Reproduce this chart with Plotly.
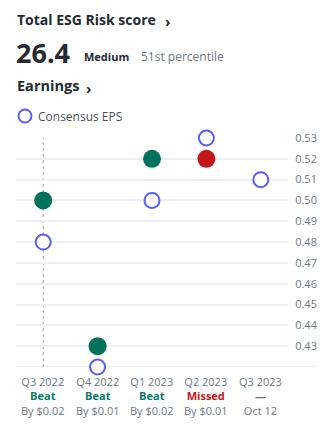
import plotly.graph_objects as go

quarters = ["Q3 2022", "Q4 2022", "Q1 2023", "Q2 2023", "Q3 2023"]
consensus_eps = [0.48, 0.42, 0.50, 0.53, 0.51]
actual_eps = [0.50, 0.43, 0.52, 0.52, None]
result_labels = ["Beat", "Beat", "Beat", "Missed", "—"]
result_details = ["By $0.02", "By $0.01", "By $0.02", "By $0.01", "Oct 12"]
y_ticks = [0.43, 0.44, 0.45, 0.46, 0.47, 0.48, 0.49, 0.50, 0.51, 0.52, 0.53]

GREEN = "#017259"
BEAT = "#0b7a68"
RED = "#c2161b"
BLUE = "#5c5cf6"
GREY = "#6e7780"
DARK = "#232a31"
FONT = "Open Sans"

W, H = 326, 431
L, R, T, B = 16, 288, 138, 367

def px(xp):
    return (xp - L) / (R - L)

def py(yp):
    return (B - yp) / (B - T)

x_idx = list(range(len(quarters)))
actual_colors = [RED if r == "Missed" else GREEN for r in result_labels]

fig = go.Figure()
fig.add_trace(go.Scatter(
    x=x_idx, y=consensus_eps, mode="markers", name="Consensus EPS",
    marker=dict(size=15, color="white", line=dict(color=BLUE, width=2)),
    cliponaxis=False, showlegend=False,
))
fig.add_trace(go.Scatter(
    x=[i for i, v in zip(x_idx, actual_eps) if v is not None],
    y=[v for v in actual_eps if v is not None], mode="markers", name="Actual",
    marker=dict(size=18, color=[c for c, v in zip(actual_colors, actual_eps) if v is not None]),
    cliponaxis=False, showlegend=False,
))

shapes = [
    dict(type="line", xref="paper", yref="y", x0=0, x1=px(316), y0=0.42, y1=0.42,
         line=dict(color="#e8e9ec", width=1.5), layer="below"),
    dict(type="line", xref="paper", yref="y", x0=0, x1=1, y0=actual_eps[0], y1=actual_eps[0],
         line=dict(color="#9aa0a6", width=1, dash="3px,3px"), layer="below"),
    dict(type="line", xref="x", yref="y", x0=0, x1=0, y0=0.42, y1=0.53,
         line=dict(color="#9aa0a6", width=1, dash="3px,3px"), layer="below"),
    dict(type="circle", xref="paper", yref="paper", xsizemode="pixel", ysizemode="pixel",
         xanchor=px(25), yanchor=py(116), x0=-6.5, x1=6.5, y0=-6.5, y1=6.5,
         line=dict(color=BLUE, width=2), fillcolor="white"),
]

annotations = [
    dict(text="<b>Total ESG Risk score</b>", x=px(15), y=py(19), font=dict(size=14, color=DARK)),
    dict(text="<b>›</b>", x=px(163), y=py(21), font=dict(size=15, color=DARK)),
    dict(text="<b>26.4</b>", x=px(14), y=py(53), font=dict(size=27, color=DARK)),
    dict(text="<b>Medium</b>", x=px(82), y=py(56), font=dict(size=11, color=DARK)),
    dict(text="51st percentile", x=px(139), y=py(56), font=dict(size=12, color=GREY)),
    dict(text="<b>Earnings</b>", x=px(15), y=py(86), font=dict(size=14.5, color=DARK)),
    dict(text="<b>›</b>", x=px(84), y=py(88), font=dict(size=15, color=DARK)),
    dict(text="Consensus EPS", x=px(36), y=py(116), font=dict(size=12, color="#4a5259")),
]
for a in annotations:
    a.update(xref="paper", yref="paper", xanchor="left", yanchor="middle", showarrow=False)

for i, (q, r, d) in enumerate(zip(quarters, result_labels, result_details)):
    rc = RED if r == "Missed" else (BEAT if r == "Beat" else GREY)
    txt = f"{q}<br><b><span style='color:{rc}'>{r}</span></b><br>{d}"
    annotations.append(dict(text=txt, x=i, y=py(396), xref="x", yref="paper", showarrow=False,
                            yanchor="middle", xanchor="center", align="center",
                            font=dict(size=11, color=GREY, family=FONT)))

fig.update_layout(
    width=W, height=H,
    margin=dict(l=L, r=W - R, t=T, b=H - B, pad=0, autoexpand=False),
    paper_bgcolor="white", plot_bgcolor="white",
    font=dict(family=FONT, color=GREY),
    shapes=shapes, annotations=annotations,
    xaxis=dict(range=[-0.5, 4.5], showgrid=False, zeroline=False, showticklabels=False,
               showline=False, fixedrange=True, automargin=False),
    yaxis=dict(range=[0.42, 0.53], side="right", tickvals=y_ticks,
               ticktext=[f"{v:.2f}" for v in y_ticks], showgrid=True,
               gridcolor="#eeeff2", gridwidth=1.5, zeroline=False, showline=False,
               ticks="outside", ticklen=4, tickcolor="rgba(0,0,0,0)",
               tickfont=dict(size=11, color=GREY, family=FONT), fixedrange=True,
               automargin=False),
    showlegend=False,
)

fig.write_html("out.html")
